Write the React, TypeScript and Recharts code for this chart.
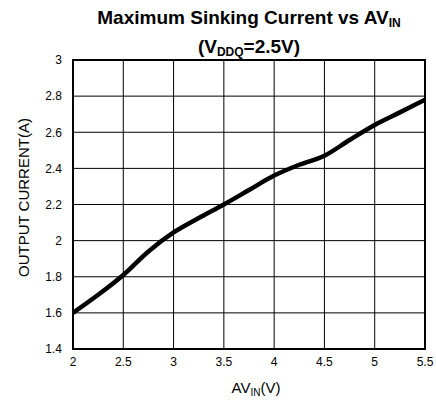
import { LineChart, Line, XAxis, YAxis, CartesianGrid, ReferenceArea, Label } from "recharts"

const FONT = "'Liberation Sans', Arial, sans-serif"

const supplyVoltage = [2, 2.25, 2.5, 2.75, 3, 3.25, 3.5, 3.75, 4, 4.25, 4.5, 4.75, 5, 5.25, 5.5]
const sinkCurrent = [1.6, 1.7, 1.81, 1.94, 2.045, 2.125, 2.2, 2.28, 2.36, 2.42, 2.47, 2.557, 2.64, 2.71, 2.78]

const xTicks = [2, 2.5, 3, 3.5, 4, 4.5, 5, 5.5]
const yTicks = [1.4, 1.6, 1.8, 2, 2.2, 2.4, 2.6, 2.8, 3]

const data = supplyVoltage.map((v, i) => ({ v, current: sinkCurrent[i] }))

const YLabel = ({ viewBox }: any) => {
  const cx = viewBox.x + 23
  const cy = viewBox.y + viewBox.height / 2 - 7
  return (
    <text
      x={cx}
      y={cy}
      transform={`rotate(-90, ${cx}, ${cy})`}
      textAnchor="middle"
      dominantBaseline="central"
      fontSize={15}
      fontFamily={FONT}
      fill="#000"
    >
      OUTPUT CURRENT(A)
    </text>
  )
}

const XLabel = ({ viewBox }: any) => {
  const cx = viewBox.x + viewBox.width / 2 + 7
  return (
    <text x={cx} y={viewBox.y + 44} textAnchor="middle" fontSize={15} fontFamily={FONT} fill="#000">
      AV
      <tspan fontSize={10} dy={3}>IN</tspan>
      <tspan dy={-3}>(V)</tspan>
    </text>
  )
}

export default function App() {
  return (
    <div style={{ position: "absolute", left: 0, top: 0, width: 436, height: 403, background: "#fff" }}>
      <div
        style={{
          position: "absolute",
          left: 73,
          width: 352,
          top: 6,
          textAlign: "center",
          fontFamily: FONT,
          fontWeight: "bold",
          fontSize: 19,
          lineHeight: "24px",
          color: "#000",
        }}
      >
        <div>
          Maximum Sinking Current vs AV<sub style={{ fontSize: 12, verticalAlign: "-3px" }}>IN</sub>
        </div>
        <div>
          (V<sub style={{ fontSize: 12, verticalAlign: "-3px" }}>DDQ</sub>=2.5V)
        </div>
      </div>
      <LineChart width={436} height={403} data={data} margin={{ top: 60, right: 11, bottom: 0, left: 0 }}>
        <CartesianGrid stroke="#000" strokeWidth={1} />
        <XAxis
          dataKey="v"
          type="number"
          domain={[2, 5.5]}
          ticks={xTicks}
          height={54}
          axisLine={false}
          tickLine={false}
          tick={{ fill: "#000", fontSize: 12, fontFamily: FONT }}
        >
          <Label content={<XLabel />} />
        </XAxis>
        <YAxis
          type="number"
          domain={[1.4, 3]}
          ticks={yTicks}
          width={73}
          axisLine={false}
          tickLine={false}
          tickMargin={5}
          tickFormatter={(v: number) => String(Number(v.toFixed(1)))}
          tick={{ fill: "#000", fontSize: 12, fontFamily: FONT }}
        >
          <Label content={<YLabel />} />
        </YAxis>
        <ReferenceArea x1={2} x2={5.5} y1={1.4} y2={3} fill="none" stroke="#000" strokeWidth={2} />
        <Line
          dataKey="current"
          type="monotone"
          stroke="#000"
          strokeWidth={4.5}
          dot={false}
          isAnimationActive={false}
        />
      </LineChart>
    </div>
  )
}
